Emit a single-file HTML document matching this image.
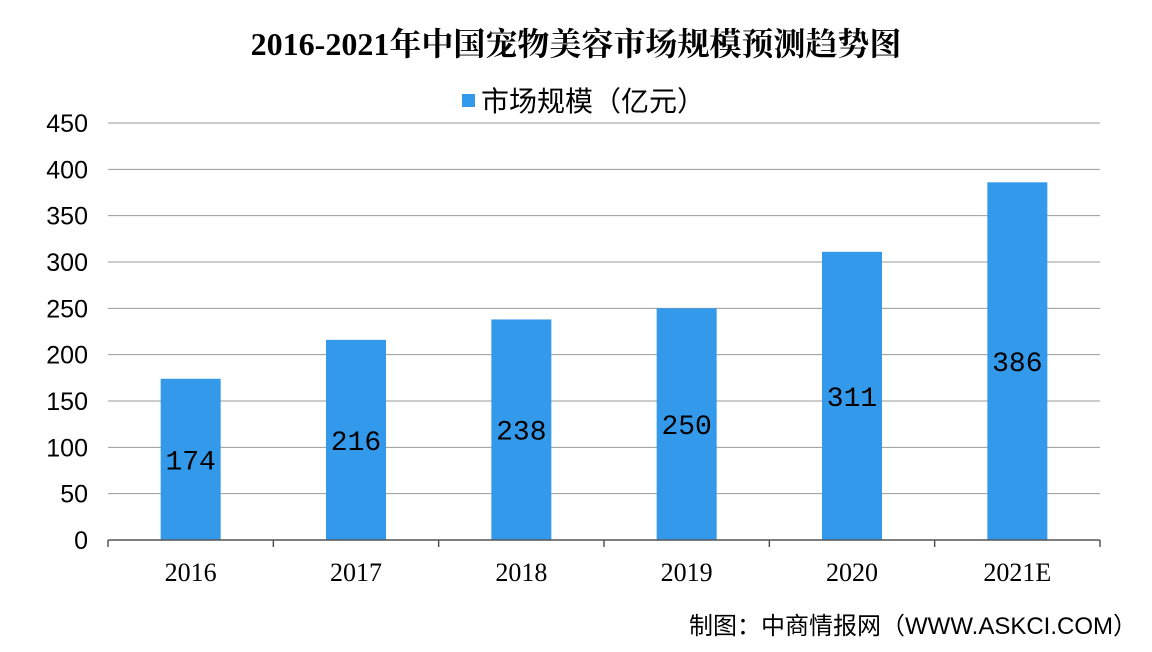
<!DOCTYPE html>
<html><head><meta charset="utf-8"><style>
body{margin:0;background:#fff;}
svg{display:block}
</style></head><body>
<svg width="1152" height="652" viewBox="0 0 1152 652" id="c">
<text x="576" y="55" text-anchor="middle" font-family="'Liberation Serif','Noto Serif CJK SC',serif" font-weight="bold" font-size="32" fill="#000">2016-2021年中国宠物美容市场规模预测趋势图</text>
<g>
<rect x="462" y="94" width="13" height="13" fill="#3399ea"/>
<text x="481" y="111" font-family="'Liberation Sans','Noto Sans CJK SC',sans-serif" font-size="28" fill="#000">市场规模（亿元）</text>
</g>
<g id="grid"></g><g id="bars"></g><g id="axes"></g>
<text x="1137" y="634" text-anchor="end" font-family="'Liberation Sans','Noto Sans CJK SC',sans-serif" font-size="24" fill="#000">制图：中商情报网（WWW.ASKCI.COM）</text>
</svg>
<script>
const categories=["2016","2017","2018","2019","2020","2021E"];
const values=[174,216,238,250,311,386];
const yTicks=[0,50,100,150,200,250,300,350,400,450];
const NS="http://www.w3.org/2000/svg";
const x0=108,x1=1100,y0=540,yMax=450,yTop=123;
const band=(x1-x0)/categories.length;
const y=v=>y0-(v/yMax)*(y0-yTop);
const xc=i=>x0+band*(i+0.5);
function mk(t,a,p){const e=document.createElementNS(NS,t);for(const k in a)e.setAttribute(k,a[k]);p.appendChild(e);return e;}
const grid=document.getElementById('grid'),bars=document.getElementById('bars'),axes=document.getElementById('axes');
yTicks.forEach(v=>{
 if(v>0){const l=mk('line',{x1:x0,x2:x1,y1:y(v),y2:y(v),stroke:'#999','stroke-width':1},grid);
 
 }
 const t=mk('text',{x:88,y:y(v)+9,'text-anchor':'end','font-family':"'Liberation Sans',sans-serif",'font-size':25,fill:'#000'},axes);
 t.textContent=v;
 
 
});
const ax=mk('line',{x1:x0,x2:x1,y1:y0,y2:y0,stroke:'#555','stroke-width':1.5},axes);


for(let i=0;i<=categories.length;i++){
 const tk=mk('line',{x1:x0+band*i,x2:x0+band*i,y1:y0,y2:y0+7,stroke:'#555','stroke-width':1.5},axes);
 
 
}
categories.forEach((c,i)=>{
 const w=60;
 const r=mk('rect',{x:xc(i)-w/2,y:y(values[i]),width:w,height:y0-y(values[i]),fill:'#3399ea'},bars);
 
 
 const lb=mk('text',{x:xc(i),y:(y(values[i])+y0)/2+10,'text-anchor':'middle','font-family':"'Liberation Mono',monospace",'font-size':28,fill:'#000'},bars);
 lb.textContent=values[i];
 
 
 const xl=mk('text',{x:xc(i),y:581,'text-anchor':'middle','font-family':"'Liberation Serif',serif",'font-size':26,fill:'#000'},axes);
 xl.textContent=c;
 
 
});
</script>
</body></html>
